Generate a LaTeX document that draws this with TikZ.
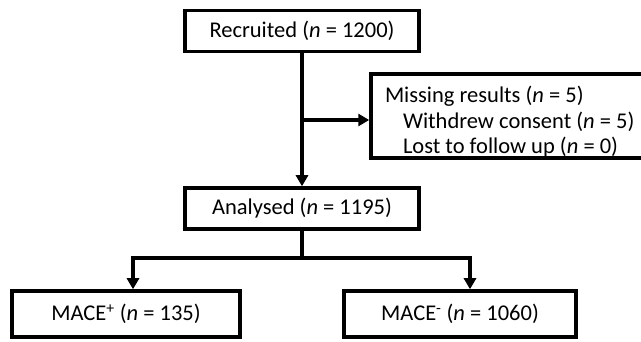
\documentclass[tikz,border=0pt]{standalone}
\usepackage{fontspec}
\setmainfont{Carlito}
\usetikzlibrary{arrows.meta,positioning}

\begin{document}
\begin{tikzpicture}[x=1pt,y=-1pt,
    font=\fontsize{22.5}{25.5}\selectfont,
    box/.style={draw, rectangle, line width=3.5pt, inner sep=0pt},
    arrow/.style={line width=3.5pt, -{Triangle[width=12pt,length=11pt]}}]

\useasboundingbox (0,0) rectangle (641,342);

% Start block
\node[box,
    minimum width=234,
    minimum height=41] (recruited) at (302,31) {Recruited (\textit{n} = 1200)};

% Excluded participants (box runs past the right edge)
\node[box,
    minimum width=290,
    minimum height=84,
    text width=262,
    align=left] (missing) at (516,116)
    {\spaceskip=0pt\xspaceskip=0pt
     \rule{0pt}{28pt}Missing results (\textit{n} = 5)\\
     \hspace*{18pt}Withdrew consent (\textit{n} = 5)\\
     \hspace*{18pt}Lost to follow up (\textit{n} = 0)};

% Analysed cohort
\node[box,
    minimum width=234,
    minimum height=41] (analysed) at (302,208.5) {Analysed (\textit{n} = 1195)};

% Outcome groups
\node[box,
    minimum width=228,
    minimum height=46] (maceplus) at (126,314) {MACE\textsuperscript{+} (\textit{n} = 135)};

\node[box,
    minimum width=232,
    minimum height=46] (maceminus) at (460,314) {MACE\textsuperscript{-} (\textit{n} = 1060)};

\coordinate (branch) at (302,120);
\coordinate (split) at (302,258);

% Arrows
\draw[arrow] (recruited) -- (analysed);
\draw[arrow] (branch) -- (branch -| missing.west);

\draw[line width=3.5pt] (analysed.south) -- (split);
\draw[arrow] (split) -| ([xshift=7pt]maceplus.north);
\draw[arrow] (split) -| ([xshift=10pt]maceminus.north);

\end{tikzpicture}
\end{document}
